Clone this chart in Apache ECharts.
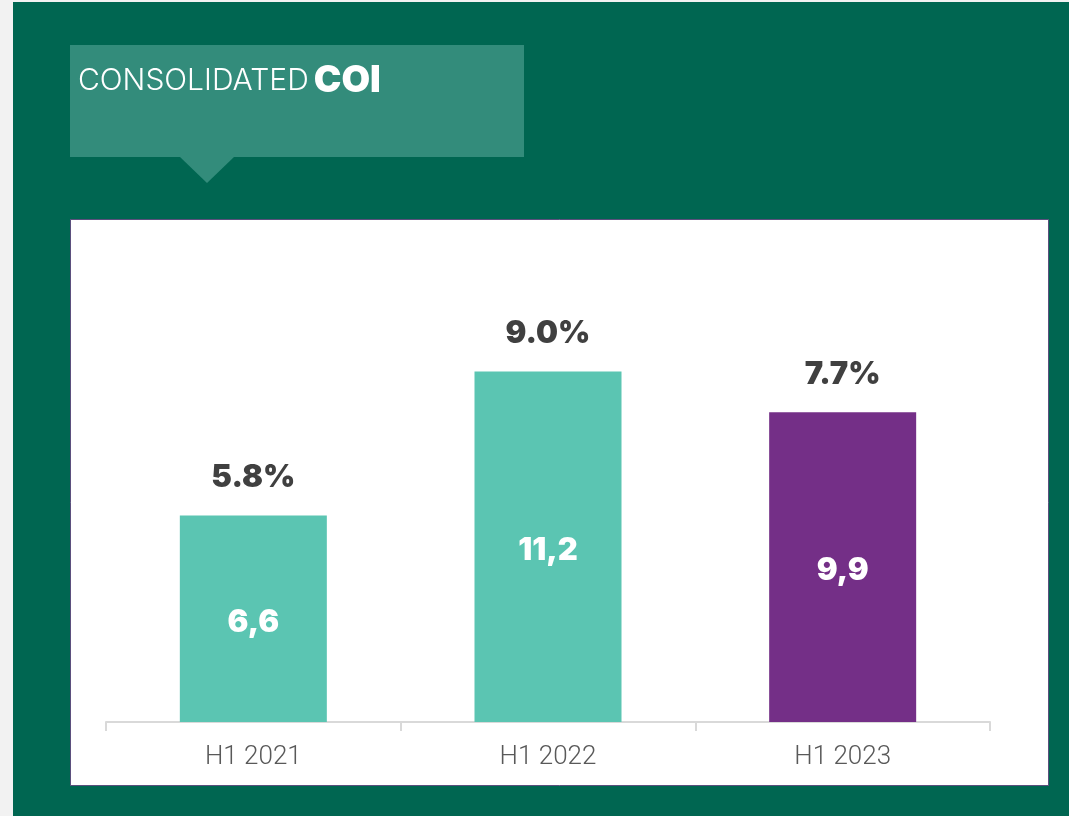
<!DOCTYPE html>
<html>
<head>
<meta charset="utf-8">
<script src="https://cdn.jsdelivr.net/npm/echarts@6/dist/echarts.min.js"></script>
<style>
    html, body { margin: 0; padding: 0; background: #f2f2f2; }
    #main { width: 1069px; height: 816px; }
</style>
</head>
<body>
<div id="main"></div>
<script>
// chart data
const categories = ['H1 2021', 'H1 2022', 'H1 2023'];
const coiValues = [6.6, 11.2, 9.9];
const marginLabels = ['5.8%', '9.0%', '7.7%'];
const barColors = ['#5bc5b2', '#5bc5b2', '#742f87'];

const chart = echarts.init(document.getElementById('main'));

const option = {
    animation: false,
    title: {
        text: '{a|CONSOLIDATED} {b|COI}',
        left: 73,
        top: 57,
        textStyle: {
            rich: {
                a: { fontFamily: 'Inter', fontWeight: 300, fontSize: 30, color: '#ffffff' },
                b: { fontFamily: 'Inter', fontWeight: 900, fontSize: 37, color: '#ffffff' }
            }
        }
    },
    graphic: [
        // green page
        { type: 'rect', z: -10, shape: { x: 13, y: 2, width: 1056, height: 814 }, style: { fill: '#006651' } },
        // title box with pointer
        { type: 'rect', z: -9, shape: { x: 70, y: 45, width: 454, height: 112 }, style: { fill: '#338c7b' } },
        { type: 'polygon', z: -9, shape: { points: [[180, 157], [234, 157], [207, 183]] }, style: { fill: '#338c7b' } },
        // white chart panel
        { type: 'rect', z: -9, shape: { x: 70.5, y: 219.5, width: 978, height: 566 }, style: { fill: '#ffffff', stroke: '#5b4f7d', lineWidth: 1 } }
    ],
    grid: { left: 106, right: 79, top: 284, bottom: 94 },
    xAxis: {
        type: 'category',
        data: categories,
        axisLine: { lineStyle: { color: '#d9d9d9', width: 2 } },
        axisTick: { show: true, length: 9, lineStyle: { color: '#d9d9d9', width: 2 } },
        axisLabel: { color: '#595959', fontFamily: 'Roboto', fontWeight: 300, fontSize: 26, margin: 22 }
    },
    yAxis: {
        type: 'value',
        min: 0,
        max: 14,
        show: false,
        splitLine: { show: false }
    },
    series: [{
        type: 'bar',
        barWidth: 147,
        data: coiValues.map((v, i) => ({ value: v, itemStyle: { color: barColors[i] } })),
        label: {
            show: true,
            position: 'inside',
            offset: [0, 4],
            color: '#ffffff',
            fontFamily: 'Inter',
            fontWeight: 900,
            fontSize: 31,
            formatter: p => String(p.value).replace('.', ',')
        }
    }, {
        // margin labels above bars
        type: 'bar',
        barWidth: 147,
        barGap: '-100%',
        silent: true,
        itemStyle: { color: 'transparent' },
        data: coiValues,
        label: {
            show: true,
            position: 'top',
            distance: 22,
            color: '#404040',
            fontFamily: 'Inter',
            fontWeight: 900,
            fontSize: 31,
            formatter: p => marginLabels[p.dataIndex]
        }
    }]
};

chart.setOption(option);
</script>
</body>
</html>
